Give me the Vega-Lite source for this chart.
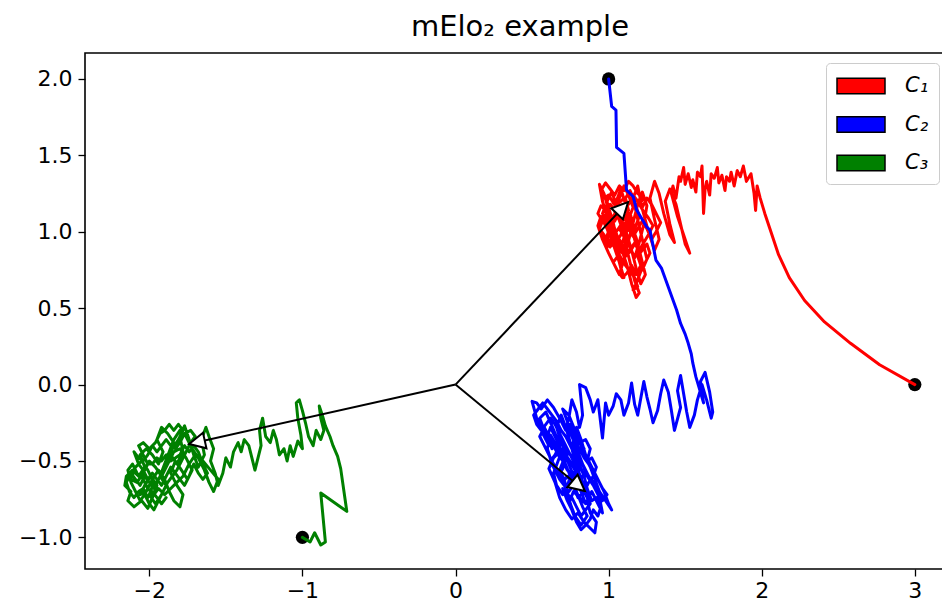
{
"$schema":"https://vega.github.io/schema/vega-lite/v6.json",
"width":858,"height":516,
"autosize":{"type":"none"},
"padding":{"left":85,"top":53,"right":0,"bottom":37},
"background":"white",
"title":{"text":"mElo₂ example","font":"DejaVu Sans","fontSize":29,"fontWeight":"normal","color":"black","offset":11,"dx":6},
"config":{"view":{"stroke":"black","strokeWidth":1.6},
"axis":{"grid":false,"domain":false,"tickColor":"black","tickSize":7,"tickWidth":1.3,"labelFont":"DejaVu Sans","labelFontSize":22,"labelColor":"black","title":null,"labelFlush":false}},
"datasets":{
"starts":[{"x":3,"y":0},{"x":1,"y":2},{"x":-1,"y":-1}],
"arrows":[{"x":1.127,"y":1.194},{"x":0.845,"y":-0.697},{"x":-1.74,"y":-0.389}],
"walks":[
{"c":"C₁","x":3,"y":0},{"c":"C₁","x":2.77,"y":0.13},{"c":"C₁","x":2.58,"y":0.27},{"c":"C₁","x":2.41,"y":0.41},{"c":"C₁","x":2.28,"y":0.55},{"c":"C₁","x":2.18,"y":0.7},{"c":"C₁","x":2.11,"y":0.85},{"c":"C₁","x":2.06,"y":1.0},{"c":"C₁","x":2.02,"y":1.12},{"c":"C₁","x":1.99,"y":1.22},
{"c":"C₁","x":1.97,"y":1.3},{"c":"C₁","x":1.96,"y":1.14},{"c":"C₁","x":1.95,"y":1.25},{"c":"C₁","x":1.93,"y":1.38},{"c":"C₁","x":1.9,"y":1.33},{"c":"C₁","x":1.88,"y":1.43},{"c":"C₁","x":1.86,"y":1.36},{"c":"C₁","x":1.84,"y":1.4},{"c":"C₁","x":1.82,"y":1.3},{"c":"C₁","x":1.8,"y":1.39},{"c":"C₁","x":1.79,"y":1.33},{"c":"C₁","x":1.77,"y":1.36},{"c":"C₁","x":1.76,"y":1.27},{"c":"C₁","x":1.74,"y":1.37},{"c":"C₁","x":1.72,"y":1.32},{"c":"C₁","x":1.71,"y":1.42},{"c":"C₁","x":1.69,"y":1.35},{"c":"C₁","x":1.67,"y":1.38},{"c":"C₁","x":1.66,"y":1.24},{"c":"C₁","x":1.64,"y":1.33},{"c":"C₁","x":1.63,"y":1.28},{"c":"C₁","x":1.62,"y":1.12},{"c":"C₁","x":1.61,"y":1.43},{"c":"C₁","x":1.6,"y":1.36},{"c":"C₁","x":1.58,"y":1.39},{"c":"C₁","x":1.57,"y":1.26},{"c":"C₁","x":1.55,"y":1.34},{"c":"C₁","x":1.54,"y":1.29},{"c":"C₁","x":1.52,"y":1.38},{"c":"C₁","x":1.5,"y":1.31},{"c":"C₁","x":1.49,"y":1.42},{"c":"C₁","x":1.47,"y":1.33},{"c":"C₁","x":1.46,"y":1.36},{"c":"C₁","x":1.44,"y":1.22},{"c":"C₁","x":1.42,"y":1.3},{"c":"C₁","x":1.41,"y":1.25},
{"c":"C₁","x":1.45,"y":1.1},{"c":"C₁","x":1.5,"y":0.95},{"c":"C₁","x":1.53,"y":0.86},{"c":"C₁","x":1.5,"y":0.92},{"c":"C₁","x":1.47,"y":1.05},{"c":"C₁","x":1.44,"y":1.18},{"c":"C₁","x":1.4,"y":1.28},{"c":"C₁","x":1.37,"y":1.2},{"c":"C₁","x":1.4,"y":1.05},{"c":"C₁","x":1.43,"y":0.93},{"c":"C₁","x":1.4,"y":0.98},{"c":"C₁","x":1.36,"y":1.12},{"c":"C₁","x":1.33,"y":1.25},{"c":"C₁","x":1.3,"y":1.33},{"c":"C₁","x":1.27,"y":1.22},{"c":"C₁","x":1.3,"y":1.08},{"c":"C₁","x":1.33,"y":0.95},{"c":"C₁","x":1.3,"y":0.88},{"c":"C₁","x":1.26,"y":1.0},{"c":"C₁","x":1.22,"y":1.15},{"c":"C₁","x":1.19,"y":1.3},{"c":"C₁","x":1.16,"y":1.22},{"c":"C₁","x":1.19,"y":1.08},{"c":"C₁","x":1.22,"y":0.95},{"c":"C₁","x":1.25,"y":0.82},{"c":"C₁","x":1.22,"y":0.75},{"c":"C₁","x":1.19,"y":0.88},{"c":"C₁","x":1.15,"y":1.02},{"c":"C₁","x":1.12,"y":1.15},{"c":"C₁","x":1.08,"y":1.28},{"c":"C₁","x":1.05,"y":1.2},{"c":"C₁","x":1.08,"y":1.05},{"c":"C₁","x":1.11,"y":0.92},{"c":"C₁","x":1.14,"y":0.8},{"c":"C₁","x":1.17,"y":0.68},{"c":"C₁","x":1.2,"y":0.6},{"c":"C₁","x":1.18,"y":0.57},{"c":"C₁","x":1.15,"y":0.66},{"c":"C₁","x":1.12,"y":0.78},{"c":"C₁","x":1.08,"y":0.9},{"c":"C₁","x":1.04,"y":1.02},{"c":"C₁","x":1.0,"y":1.14},{"c":"C₁","x":0.97,"y":1.25},{"c":"C₁","x":0.94,"y":1.31},{"c":"C₁","x":0.96,"y":1.2},{"c":"C₁","x":0.99,"y":1.1},{"c":"C₁","x":1.02,"y":0.98},{"c":"C₁","x":1.05,"y":0.88},{"c":"C₁","x":1.08,"y":0.76},{"c":"C₁","x":1.1,"y":0.7},{"c":"C₁","x":1.07,"y":0.8},{"c":"C₁","x":1.03,"y":0.92},{"c":"C₁","x":0.99,"y":1.02},{"c":"C₁","x":0.95,"y":1.1},{"c":"C₁","x":0.93,"y":1.04},{"c":"C₁","x":0.96,"y":0.95},{"c":"C₁","x":1.0,"y":0.86},{"c":"C₁","x":1.04,"y":0.78},{"c":"C₁","x":1.07,"y":0.72},{"c":"C₁","x":1.1,"y":0.82},{"c":"C₁","x":1.13,"y":0.94},{"c":"C₁","x":1.16,"y":1.06},{"c":"C₁","x":1.19,"y":1.18},{"c":"C₁","x":1.22,"y":1.26},{"c":"C₁","x":1.25,"y":1.17},{"c":"C₁","x":1.23,"y":1.05},{"c":"C₁","x":1.2,"y":0.93},{"c":"C₁","x":1.17,"y":0.83},{"c":"C₁","x":1.14,"y":0.9},{"c":"C₁","x":1.11,"y":1.0},{"c":"C₁","x":1.08,"y":1.1},{"c":"C₁","x":1.05,"y":1.18},{"c":"C₁","x":1.02,"y":1.26},{"c":"C₁","x":0.99,"y":1.2},{"c":"C₁","x":1.01,"y":1.08},{"c":"C₁","x":1.04,"y":0.97},{"c":"C₁","x":1.07,"y":0.86},{"c":"C₁","x":1.1,"y":0.96},{"c":"C₁","x":1.13,"y":1.08},{"c":"C₁","x":1.16,"y":1.16},{"c":"C₁","x":1.13,"y":1.24},{"c":"C₁","x":1.1,"y":1.3},{"c":"C₁","x":1.07,"y":1.22},{"c":"C₁","x":1.04,"y":1.12},{"c":"C₁","x":1.01,"y":1.03},{"c":"C₁","x":0.98,"y":0.95},{"c":"C₁","x":1.01,"y":0.9},{"c":"C₁","x":1.05,"y":1.0},{"c":"C₁","x":1.09,"y":1.06},{"c":"C₁","x":1.12,"y":0.98},{"c":"C₁","x":1.15,"y":0.88},{"c":"C₁","x":1.18,"y":0.76},{"c":"C₁","x":1.21,"y":0.66},{"c":"C₁","x":1.24,"y":0.72},{"c":"C₁","x":1.21,"y":0.84},{"c":"C₁","x":1.18,"y":0.96},{"c":"C₁","x":1.15,"y":1.04},{"c":"C₁","x":1.12,"y":1.12},{"c":"C₁","x":1.09,"y":1.18},{"c":"C₁","x":1.06,"y":1.1},{"c":"C₁","x":1.09,"y":1.02},{"c":"C₁","x":1.12,"y":0.94},{"c":"C₁","x":1.09,"y":0.86},{"c":"C₁","x":1.06,"y":0.92},{"c":"C₁","x":1.03,"y":1.06},{"c":"C₁","x":1.0,"y":1.16},{"c":"C₁","x":0.97,"y":1.08},{"c":"C₁","x":1.0,"y":0.99},{"c":"C₁","x":1.04,"y":0.92},{"c":"C₁","x":1.08,"y":0.98},{"c":"C₁","x":1.11,"y":1.06},{"c":"C₁","x":1.14,"y":1.12},{"c":"C₁","x":1.17,"y":1.02},{"c":"C₁","x":1.2,"y":1.1},{"c":"C₁","x":1.17,"y":1.2},{"c":"C₁","x":1.14,"y":1.27},{"c":"C₁","x":1.11,"y":1.22},{"c":"C₁","x":1.13,"y":1.14},
{"c":"C₁","x":1.1,"y":1.08},{"c":"C₁","x":1.07,"y":1.13},{"c":"C₁","x":1.04,"y":1.07},{"c":"C₁","x":1.01,"y":1.12},{"c":"C₁","x":0.98,"y":1.17},{"c":"C₁","x":0.96,"y":1.12},{"c":"C₁","x":0.99,"y":1.06},{"c":"C₁","x":1.02,"y":1.0},{"c":"C₁","x":0.99,"y":0.96},{"c":"C₁","x":1.02,"y":0.91},{"c":"C₁","x":1.05,"y":0.95},{"c":"C₁","x":1.08,"y":0.89},{"c":"C₁","x":1.11,"y":0.84},{"c":"C₁","x":1.14,"y":0.87},{"c":"C₁","x":1.17,"y":0.92},{"c":"C₁","x":1.2,"y":0.88},{"c":"C₁","x":1.23,"y":0.93},{"c":"C₁","x":1.26,"y":0.98},{"c":"C₁","x":1.29,"y":1.04},{"c":"C₁","x":1.26,"y":1.09},{"c":"C₁","x":1.23,"y":1.13},{"c":"C₁","x":1.2,"y":1.18},{"c":"C₁","x":1.23,"y":1.22},{"c":"C₁","x":1.19,"y":1.25},{"c":"C₁","x":1.16,"y":1.3},{"c":"C₁","x":1.13,"y":1.33},{"c":"C₁","x":1.1,"y":1.27},{"c":"C₁","x":1.07,"y":1.3},{"c":"C₁","x":1.04,"y":1.24},{"c":"C₁","x":1.01,"y":1.28},{"c":"C₁","x":0.98,"y":1.32},{"c":"C₁","x":0.95,"y":1.27},{"c":"C₁","x":0.97,"y":1.22},{"c":"C₁","x":1.0,"y":1.24},{"c":"C₁","x":1.03,"y":1.19},{"c":"C₁","x":1.06,"y":1.15},{"c":"C₁","x":1.09,"y":1.12},{"c":"C₁","x":1.12,"y":1.06},{"c":"C₁","x":1.15,"y":1.0},{"c":"C₁","x":1.18,"y":0.94},{"c":"C₁","x":1.15,"y":0.9},{"c":"C₁","x":1.12,"y":0.86},{"c":"C₁","x":1.09,"y":0.8},{"c":"C₁","x":1.06,"y":0.84},{"c":"C₁","x":1.03,"y":0.8},{"c":"C₁","x":1.06,"y":0.74},{"c":"C₁","x":1.09,"y":0.7},{"c":"C₁","x":1.12,"y":0.73},{"c":"C₁","x":1.15,"y":0.78},{"c":"C₁","x":1.18,"y":0.72},{"c":"C₁","x":1.21,"y":0.78},{"c":"C₁","x":1.19,"y":0.84},{"c":"C₁","x":1.22,"y":0.88},{"c":"C₁","x":1.25,"y":0.92},{"c":"C₁","x":1.27,"y":0.86},{"c":"C₁","x":1.24,"y":0.8},{"c":"C₁","x":1.21,"y":0.74},{"c":"C₁","x":1.18,"y":0.66},{"c":"C₁","x":1.16,"y":0.62},{"c":"C₁","x":1.19,"y":0.64},{"c":"C₁","x":1.17,"y":0.7},{"c":"C₁","x":1.14,"y":0.74},{"c":"C₁","x":1.11,"y":0.78},{"c":"C₁","x":1.08,"y":0.83},{"c":"C₁","x":1.05,"y":0.89},{"c":"C₁","x":1.02,"y":0.94},{"c":"C₁","x":0.99,"y":0.9},{"c":"C₁","x":0.97,"y":0.98},{"c":"C₁","x":0.94,"y":1.02},{"c":"C₁","x":0.96,"y":1.07},{"c":"C₁","x":0.93,"y":1.12},{"c":"C₁","x":0.95,"y":1.17},{"c":"C₁","x":0.98,"y":1.14},{"c":"C₁","x":1.01,"y":1.18},{"c":"C₁","x":1.04,"y":1.14},{"c":"C₁","x":1.07,"y":1.19},{"c":"C₁","x":1.1,"y":1.22},{"c":"C₁","x":1.13,"y":1.18},{"c":"C₁","x":1.16,"y":1.24},{"c":"C₁","x":1.19,"y":1.2},{"c":"C₁","x":1.22,"y":1.16},{"c":"C₁","x":1.25,"y":1.22},{"c":"C₁","x":1.28,"y":1.18},{"c":"C₁","x":1.31,"y":1.12},{"c":"C₁","x":1.34,"y":1.06},{"c":"C₁","x":1.31,"y":1.0},{"c":"C₁","x":1.28,"y":0.95},{"c":"C₁","x":1.25,"y":1.02},{"c":"C₁","x":1.22,"y":1.07},{"c":"C₁","x":1.19,"y":1.02},{"c":"C₁","x":1.16,"y":0.97},{"c":"C₁","x":1.13,"y":1.02},{"c":"C₁","x":1.1,"y":0.97},{"c":"C₁","x":1.07,"y":1.02},{"c":"C₁","x":1.04,"y":1.0},{"c":"C₁","x":1.07,"y":0.95},{"c":"C₁","x":1.1,"y":0.9},{"c":"C₁","x":1.13,"y":0.96},
{"c":"C₂","x":1,"y":2},{"c":"C₂","x":1.02,"y":1.82},{"c":"C₂","x":1.048,"y":1.796},{"c":"C₂","x":1.052,"y":1.552},{"c":"C₂","x":1.1,"y":1.513},{"c":"C₂","x":1.117,"y":1.273},{"c":"C₂","x":1.161,"y":1.229},{"c":"C₂","x":1.183,"y":1.142},{"c":"C₂","x":1.248,"y":1.033},{"c":"C₂","x":1.27,"y":1.011},{"c":"C₂","x":1.309,"y":0.815},{"c":"C₂","x":1.346,"y":0.76},{"c":"C₂","x":1.444,"y":0.488},{"c":"C₂","x":1.47,"y":0.4},{"c":"C₂","x":1.5,"y":0.33},{"c":"C₂","x":1.52,"y":0.27},{"c":"C₂","x":1.54,"y":0.2},{"c":"C₂","x":1.55,"y":0.14},
{"c":"C₂","x":1.57,"y":0.05},{"c":"C₂","x":1.6,"y":-0.05},{"c":"C₂","x":1.62,"y":-0.12},{"c":"C₂","x":1.6,"y":0.02},{"c":"C₂","x":1.63,"y":0.08},{"c":"C₂","x":1.66,"y":-0.05},{"c":"C₂","x":1.68,"y":-0.18},{"c":"C₂","x":1.67,"y":-0.22},{"c":"C₂","x":1.64,"y":-0.1},{"c":"C₂","x":1.61,"y":0.0},{"c":"C₂","x":1.58,"y":-0.1},{"c":"C₂","x":1.56,"y":-0.2},{"c":"C₂","x":1.53,"y":-0.28},{"c":"C₂","x":1.51,"y":-0.18},{"c":"C₂","x":1.49,"y":-0.06},{"c":"C₂","x":1.47,"y":0.06},{"c":"C₂","x":1.45,"y":-0.04},{"c":"C₂","x":1.47,"y":-0.15},{"c":"C₂","x":1.43,"y":-0.3},{"c":"C₂","x":1.41,"y":-0.17},{"c":"C₂","x":1.39,"y":-0.05},{"c":"C₂","x":1.36,"y":0.03},{"c":"C₂","x":1.34,"y":-0.06},{"c":"C₂","x":1.32,"y":-0.17},{"c":"C₂","x":1.29,"y":-0.25},{"c":"C₂","x":1.27,"y":-0.16},{"c":"C₂","x":1.25,"y":-0.08},{"c":"C₂","x":1.23,"y":0.02},{"c":"C₂","x":1.21,"y":-0.09},{"c":"C₂","x":1.19,"y":-0.2},{"c":"C₂","x":1.17,"y":-0.13},{"c":"C₂","x":1.15,"y":0.01},{"c":"C₂","x":1.13,"y":-0.12},{"c":"C₂","x":1.1,"y":-0.2},{"c":"C₂","x":1.08,"y":-0.1},{"c":"C₂","x":1.05,"y":-0.06},{"c":"C₂","x":1.03,"y":-0.14},{"c":"C₂","x":1.0,"y":-0.2},{"c":"C₂","x":0.98,"y":-0.12},{"c":"C₂","x":0.96,"y":-0.35},{"c":"C₂","x":0.93,"y":-0.1},{"c":"C₂","x":0.9,"y":-0.18},{"c":"C₂","x":0.88,"y":-0.1},{"c":"C₂","x":0.85,"y":-0.02},{"c":"C₂","x":0.81,"y":0.0},{"c":"C₂","x":0.83,"y":-0.2},{"c":"C₂","x":0.81,"y":-0.28},{"c":"C₂","x":0.79,"y":-0.18},{"c":"C₂","x":0.76,"y":-0.1},{"c":"C₂","x":0.74,"y":-0.22},{"c":"C₂","x":0.72,"y":-0.3},
{"c":"C₂","x":0.68,"y":-0.22},{"c":"C₂","x":0.64,"y":-0.15},{"c":"C₂","x":0.6,"y":-0.1},{"c":"C₂","x":0.56,"y":-0.16},{"c":"C₂","x":0.53,"y":-0.12},{"c":"C₂","x":0.5,"y":-0.11},{"c":"C₂","x":0.53,"y":-0.22},{"c":"C₂","x":0.57,"y":-0.32},{"c":"C₂","x":0.61,"y":-0.4},{"c":"C₂","x":0.58,"y":-0.3},{"c":"C₂","x":0.55,"y":-0.22},{"c":"C₂","x":0.59,"y":-0.18},{"c":"C₂","x":0.63,"y":-0.27},{"c":"C₂","x":0.67,"y":-0.37},{"c":"C₂","x":0.7,"y":-0.47},{"c":"C₂","x":0.66,"y":-0.4},{"c":"C₂","x":0.62,"y":-0.33},{"c":"C₂","x":0.6,"y":-0.42},{"c":"C₂","x":0.63,"y":-0.52},{"c":"C₂","x":0.67,"y":-0.6},{"c":"C₂","x":0.7,"y":-0.55},{"c":"C₂","x":0.73,"y":-0.46},{"c":"C₂","x":0.69,"y":-0.38},{"c":"C₂","x":0.66,"y":-0.28},{"c":"C₂","x":0.69,"y":-0.2},{"c":"C₂","x":0.72,"y":-0.28},{"c":"C₂","x":0.75,"y":-0.38},{"c":"C₂","x":0.78,"y":-0.48},{"c":"C₂","x":0.81,"y":-0.56},{"c":"C₂","x":0.77,"y":-0.6},{"c":"C₂","x":0.73,"y":-0.66},{"c":"C₂","x":0.7,"y":-0.72},{"c":"C₂","x":0.66,"y":-0.66},{"c":"C₂","x":0.64,"y":-0.58},{"c":"C₂","x":0.67,"y":-0.5},{"c":"C₂","x":0.7,"y":-0.42},{"c":"C₂","x":0.74,"y":-0.52},{"c":"C₂","x":0.78,"y":-0.62},{"c":"C₂","x":0.82,"y":-0.7},{"c":"C₂","x":0.85,"y":-0.78},{"c":"C₂","x":0.81,"y":-0.74},{"c":"C₂","x":0.77,"y":-0.7},{"c":"C₂","x":0.74,"y":-0.78},{"c":"C₂","x":0.72,"y":-0.7},{"c":"C₂","x":0.75,"y":-0.6},{"c":"C₂","x":0.71,"y":-0.5},{"c":"C₂","x":0.68,"y":-0.44},{"c":"C₂","x":0.64,"y":-0.48},{"c":"C₂","x":0.61,"y":-0.55},{"c":"C₂","x":0.65,"y":-0.64},{"c":"C₂","x":0.68,"y":-0.74},{"c":"C₂","x":0.72,"y":-0.82},{"c":"C₂","x":0.76,"y":-0.88},{"c":"C₂","x":0.8,"y":-0.84},{"c":"C₂","x":0.84,"y":-0.9},{"c":"C₂","x":0.88,"y":-0.94},{"c":"C₂","x":0.91,"y":-0.97},{"c":"C₂","x":0.92,"y":-0.9},{"c":"C₂","x":0.88,"y":-0.84},{"c":"C₂","x":0.86,"y":-0.76},{"c":"C₂","x":0.89,"y":-0.7},{"c":"C₂","x":0.93,"y":-0.78},{"c":"C₂","x":0.96,"y":-0.84},{"c":"C₂","x":0.94,"y":-0.74},{"c":"C₂","x":0.9,"y":-0.66},{"c":"C₂","x":0.86,"y":-0.6},{"c":"C₂","x":0.83,"y":-0.52},{"c":"C₂","x":0.8,"y":-0.44},{"c":"C₂","x":0.76,"y":-0.34},{"c":"C₂","x":0.73,"y":-0.24},{"c":"C₂","x":0.7,"y":-0.16},{"c":"C₂","x":0.74,"y":-0.2},{"c":"C₂","x":0.78,"y":-0.3},{"c":"C₂","x":0.82,"y":-0.4},{"c":"C₂","x":0.86,"y":-0.48},{"c":"C₂","x":0.9,"y":-0.56},{"c":"C₂","x":0.94,"y":-0.64},{"c":"C₂","x":0.97,"y":-0.7},{"c":"C₂","x":1.0,"y":-0.78},{"c":"C₂","x":1.02,"y":-0.82},{"c":"C₂","x":0.98,"y":-0.76},{"c":"C₂","x":0.94,"y":-0.7},{"c":"C₂","x":0.91,"y":-0.62},{"c":"C₂","x":0.88,"y":-0.54},{"c":"C₂","x":0.85,"y":-0.46},{"c":"C₂","x":0.82,"y":-0.36},{"c":"C₂","x":0.79,"y":-0.28},{"c":"C₂","x":0.76,"y":-0.42},{"c":"C₂","x":0.79,"y":-0.54},{"c":"C₂","x":0.76,"y":-0.62},{"c":"C₂","x":0.79,"y":-0.7},{"c":"C₂","x":0.83,"y":-0.8},{"c":"C₂","x":0.86,"y":-0.86},{"c":"C₂","x":0.82,"y":-0.92},{"c":"C₂","x":0.78,"y":-0.86},{"c":"C₂","x":0.75,"y":-0.78},{"c":"C₂","x":0.71,"y":-0.62},{"c":"C₂","x":0.68,"y":-0.56},{"c":"C₂","x":0.72,"y":-0.46},{"c":"C₂","x":0.76,"y":-0.52},{"c":"C₂","x":0.8,"y":-0.6},{"c":"C₂","x":0.84,"y":-0.66},{"c":"C₂","x":0.87,"y":-0.72},{"c":"C₂","x":0.84,"y":-0.6},{"c":"C₂","x":0.8,"y":-0.5},{"c":"C₂","x":0.77,"y":-0.44},{"c":"C₂","x":0.73,"y":-0.36},{"c":"C₂","x":0.77,"y":-0.4},{"c":"C₂","x":0.81,"y":-0.48},{"c":"C₂","x":0.85,"y":-0.56},
{"c":"C₂","x":0.82,"y":-0.62},{"c":"C₂","x":0.79,"y":-0.58},{"c":"C₂","x":0.76,"y":-0.64},{"c":"C₂","x":0.73,"y":-0.6},{"c":"C₂","x":0.7,"y":-0.64},{"c":"C₂","x":0.67,"y":-0.58},{"c":"C₂","x":0.64,"y":-0.52},{"c":"C₂","x":0.61,"y":-0.46},{"c":"C₂","x":0.58,"y":-0.4},{"c":"C₂","x":0.55,"y":-0.34},{"c":"C₂","x":0.58,"y":-0.28},{"c":"C₂","x":0.61,"y":-0.34},{"c":"C₂","x":0.64,"y":-0.4},{"c":"C₂","x":0.67,"y":-0.46},{"c":"C₂","x":0.7,"y":-0.5},{"c":"C₂","x":0.73,"y":-0.56},{"c":"C₂","x":0.76,"y":-0.58},{"c":"C₂","x":0.79,"y":-0.64},{"c":"C₂","x":0.82,"y":-0.68},{"c":"C₂","x":0.85,"y":-0.72},{"c":"C₂","x":0.88,"y":-0.78},{"c":"C₂","x":0.85,"y":-0.82},{"c":"C₂","x":0.82,"y":-0.86},{"c":"C₂","x":0.79,"y":-0.8},{"c":"C₂","x":0.76,"y":-0.74},{"c":"C₂","x":0.73,"y":-0.72},{"c":"C₂","x":0.7,"y":-0.68},{"c":"C₂","x":0.73,"y":-0.76},{"c":"C₂","x":0.76,"y":-0.82},{"c":"C₂","x":0.79,"y":-0.9},{"c":"C₂","x":0.82,"y":-0.95},{"c":"C₂","x":0.85,"y":-0.92},{"c":"C₂","x":0.88,"y":-0.88},{"c":"C₂","x":0.9,"y":-0.82},{"c":"C₂","x":0.93,"y":-0.86},{"c":"C₂","x":0.95,"y":-0.8},{"c":"C₂","x":0.92,"y":-0.74},{"c":"C₂","x":0.89,"y":-0.76},{"c":"C₂","x":0.86,"y":-0.68},{"c":"C₂","x":0.83,"y":-0.64},{"c":"C₂","x":0.8,"y":-0.56},{"c":"C₂","x":0.77,"y":-0.5},{"c":"C₂","x":0.74,"y":-0.44},{"c":"C₂","x":0.71,"y":-0.38},{"c":"C₂","x":0.68,"y":-0.32},{"c":"C₂","x":0.65,"y":-0.26},{"c":"C₂","x":0.62,"y":-0.22},{"c":"C₂","x":0.59,"y":-0.26},{"c":"C₂","x":0.56,"y":-0.3},{"c":"C₂","x":0.53,"y":-0.26},{"c":"C₂","x":0.51,"y":-0.2},{"c":"C₂","x":0.54,"y":-0.16},{"c":"C₂","x":0.57,"y":-0.12},{"c":"C₂","x":0.6,"y":-0.16},{"c":"C₂","x":0.63,"y":-0.2},{"c":"C₂","x":0.66,"y":-0.24},{"c":"C₂","x":0.69,"y":-0.3},{"c":"C₂","x":0.72,"y":-0.34},{"c":"C₂","x":0.75,"y":-0.4},{"c":"C₂","x":0.78,"y":-0.44},{"c":"C₂","x":0.81,"y":-0.5},{"c":"C₂","x":0.84,"y":-0.54},{"c":"C₂","x":0.87,"y":-0.6},{"c":"C₂","x":0.9,"y":-0.64},{"c":"C₂","x":0.93,"y":-0.7},{"c":"C₂","x":0.96,"y":-0.76},{"c":"C₂","x":0.99,"y":-0.72},{"c":"C₂","x":0.96,"y":-0.68},{"c":"C₂","x":0.93,"y":-0.62},{"c":"C₂","x":0.9,"y":-0.58},{"c":"C₂","x":0.87,"y":-0.52},{"c":"C₂","x":0.84,"y":-0.48},{"c":"C₂","x":0.81,"y":-0.42},{"c":"C₂","x":0.78,"y":-0.38},{"c":"C₂","x":0.75,"y":-0.32},{"c":"C₂","x":0.72,"y":-0.28},{"c":"C₂","x":0.75,"y":-0.26},{"c":"C₂","x":0.78,"y":-0.34},{"c":"C₂","x":0.81,"y":-0.44},{"c":"C₂","x":0.84,"y":-0.42},{"c":"C₂","x":0.81,"y":-0.38},{"c":"C₂","x":0.85,"y":-0.36},{"c":"C₂","x":0.88,"y":-0.42},{"c":"C₂","x":0.86,"y":-0.5},{"c":"C₂","x":0.89,"y":-0.48},{"c":"C₂","x":0.92,"y":-0.54},{"c":"C₂","x":0.9,"y":-0.6},{"c":"C₂","x":0.87,"y":-0.64},{"c":"C₂","x":0.84,"y":-0.7},{"c":"C₂","x":0.8,"y":-0.74},{"c":"C₂","x":0.77,"y":-0.66},{"c":"C₂","x":0.74,"y":-0.7},{"c":"C₂","x":0.71,"y":-0.66},{"c":"C₂","x":0.68,"y":-0.62},{"c":"C₂","x":0.65,"y":-0.56},{"c":"C₂","x":0.62,"y":-0.5},{"c":"C₂","x":0.65,"y":-0.46},{"c":"C₂","x":0.68,"y":-0.4},{"c":"C₂","x":0.65,"y":-0.34},{"c":"C₂","x":0.62,"y":-0.28},{"c":"C₂","x":0.6,"y":-0.34},{"c":"C₂","x":0.63,"y":-0.42},
{"c":"C₃","x":-1,"y":-1},{"c":"C₃","x":-0.95,"y":-1.03},{"c":"C₃","x":-0.92,"y":-0.97},{"c":"C₃","x":-0.88,"y":-1.05},{"c":"C₃","x":-0.85,"y":-1.03},{"c":"C₃","x":-0.88,"y":-0.71},{"c":"C₃","x":-0.71,"y":-0.83},{"c":"C₃","x":-0.75,"y":-0.55},{"c":"C₃","x":-0.77,"y":-0.47},{"c":"C₃","x":-0.8,"y":-0.4},{"c":"C₃","x":-0.82,"y":-0.34},{"c":"C₃","x":-0.85,"y":-0.27},{"c":"C₃","x":-0.87,"y":-0.2},{"c":"C₃","x":-0.89,"y":-0.14},{"c":"C₃","x":-0.88,"y":-0.22},{"c":"C₃","x":-0.86,"y":-0.3},{"c":"C₃","x":-0.88,"y":-0.36},{"c":"C₃","x":-0.91,"y":-0.3},{"c":"C₃","x":-0.93,"y":-0.4},{"c":"C₃","x":-0.96,"y":-0.34},{"c":"C₃","x":-0.98,"y":-0.25},{"c":"C₃","x":-1.0,"y":-0.17},{"c":"C₃","x":-1.02,"y":-0.1},{"c":"C₃","x":-1.04,"y":-0.12},{"c":"C₃","x":-1.03,"y":-0.22},{"c":"C₃","x":-1.01,"y":-0.33},{"c":"C₃","x":-1.0,"y":-0.42},{"c":"C₃","x":-1.03,"y":-0.37},{"c":"C₃","x":-1.06,"y":-0.47},{"c":"C₃","x":-1.08,"y":-0.4},{"c":"C₃","x":-1.1,"y":-0.5},{"c":"C₃","x":-1.12,"y":-0.42},{"c":"C₃","x":-1.15,"y":-0.46},{"c":"C₃","x":-1.17,"y":-0.36},{"c":"C₃","x":-1.19,"y":-0.3},{"c":"C₃","x":-1.21,"y":-0.38},{"c":"C₃","x":-1.24,"y":-0.34},{"c":"C₃","x":-1.26,"y":-0.22},{"c":"C₃","x":-1.28,"y":-0.3},{"c":"C₃","x":-1.27,"y":-0.4},{"c":"C₃","x":-1.29,"y":-0.48},{"c":"C₃","x":-1.31,"y":-0.56},{"c":"C₃","x":-1.33,"y":-0.48},{"c":"C₃","x":-1.35,"y":-0.4},{"c":"C₃","x":-1.38,"y":-0.36},{"c":"C₃","x":-1.4,"y":-0.44},{"c":"C₃","x":-1.42,"y":-0.38},{"c":"C₃","x":-1.45,"y":-0.44},{"c":"C₃","x":-1.47,"y":-0.54},{"c":"C₃","x":-1.5,"y":-0.48},{"c":"C₃","x":-1.52,"y":-0.58},{"c":"C₃","x":-1.55,"y":-0.66},{"c":"C₃","x":-1.57,"y":-0.58},{"c":"C₃","x":-1.6,"y":-0.5},{"c":"C₃","x":-1.58,"y":-0.42},{"c":"C₃","x":-1.61,"y":-0.34},{"c":"C₃","x":-1.63,"y":-0.28},{"c":"C₃","x":-1.66,"y":-0.36},{"c":"C₃","x":-1.64,"y":-0.46},{"c":"C₃","x":-1.68,"y":-0.54},{"c":"C₃","x":-1.71,"y":-0.46},{"c":"C₃","x":-1.74,"y":-0.36},{"c":"C₃","x":-1.77,"y":-0.27},{"c":"C₃","x":-1.8,"y":-0.34},{"c":"C₃","x":-1.78,"y":-0.44},{"c":"C₃","x":-1.82,"y":-0.52},{"c":"C₃","x":-1.86,"y":-0.46},{"c":"C₃","x":-1.84,"y":-0.38},{"c":"C₃","x":-1.88,"y":-0.32},{"c":"C₃","x":-1.92,"y":-0.28},{"c":"C₃","x":-1.95,"y":-0.36},{"c":"C₃","x":-1.91,"y":-0.44},{"c":"C₃","x":-1.94,"y":-0.52},{"c":"C₃","x":-1.98,"y":-0.46},{"c":"C₃","x":-2.02,"y":-0.42},{"c":"C₃","x":-2.06,"y":-0.46},{"c":"C₃","x":-2.03,"y":-0.54},{"c":"C₃","x":-2.07,"y":-0.6},{"c":"C₃","x":-2.11,"y":-0.56},{"c":"C₃","x":-2.15,"y":-0.6},{"c":"C₃","x":-2.16,"y":-0.66},{"c":"C₃","x":-2.12,"y":-0.7},{"c":"C₃","x":-2.14,"y":-0.76},{"c":"C₃","x":-2.1,"y":-0.8},{"c":"C₃","x":-2.05,"y":-0.76},{"c":"C₃","x":-2.01,"y":-0.81},{"c":"C₃","x":-1.98,"y":-0.74},{"c":"C₃","x":-1.95,"y":-0.66},{"c":"C₃","x":-1.99,"y":-0.6},{"c":"C₃","x":-2.03,"y":-0.66},{"c":"C₃","x":-2.06,"y":-0.72},{"c":"C₃","x":-2.02,"y":-0.7},{"c":"C₃","x":-1.98,"y":-0.62},{"c":"C₃","x":-1.94,"y":-0.56},{"c":"C₃","x":-1.9,"y":-0.62},{"c":"C₃","x":-1.87,"y":-0.7},{"c":"C₃","x":-1.84,"y":-0.76},{"c":"C₃","x":-1.8,"y":-0.8},{"c":"C₃","x":-1.78,"y":-0.72},{"c":"C₃","x":-1.82,"y":-0.66},{"c":"C₃","x":-1.86,"y":-0.58},{"c":"C₃","x":-1.83,"y":-0.5},{"c":"C₃","x":-1.79,"y":-0.56},{"c":"C₃","x":-1.75,"y":-0.62},{"c":"C₃","x":-1.72,"y":-0.56},{"c":"C₃","x":-1.76,"y":-0.48},{"c":"C₃","x":-1.8,"y":-0.42},{"c":"C₃","x":-1.84,"y":-0.44},{"c":"C₃","x":-1.88,"y":-0.52},{"c":"C₃","x":-1.92,"y":-0.6},{"c":"C₃","x":-1.96,"y":-0.54},{"c":"C₃","x":-2.0,"y":-0.5},{"c":"C₃","x":-2.04,"y":-0.58},{"c":"C₃","x":-2.08,"y":-0.64},{"c":"C₃","x":-2.12,"y":-0.62},{"c":"C₃","x":-2.09,"y":-0.54},{"c":"C₃","x":-2.05,"y":-0.5},{"c":"C₃","x":-2.01,"y":-0.56},{"c":"C₃","x":-1.97,"y":-0.64},{"c":"C₃","x":-2.0,"y":-0.72},{"c":"C₃","x":-1.96,"y":-0.78},{"c":"C₃","x":-1.92,"y":-0.72},{"c":"C₃","x":-1.89,"y":-0.66},{"c":"C₃","x":-1.93,"y":-0.6},{"c":"C₃","x":-1.9,"y":-0.52},{"c":"C₃","x":-1.87,"y":-0.44},{"c":"C₃","x":-1.84,"y":-0.36},{"c":"C₃","x":-1.8,"y":-0.3},{"c":"C₃","x":-1.76,"y":-0.34},{"c":"C₃","x":-1.72,"y":-0.42},{"c":"C₃","x":-1.68,"y":-0.48},{"c":"C₃","x":-1.64,"y":-0.56},{"c":"C₃","x":-1.61,"y":-0.64},{"c":"C₃","x":-1.58,"y":-0.7},{"c":"C₃","x":-1.55,"y":-0.62},{"c":"C₃","x":-1.6,"y":-0.56},{"c":"C₃","x":-1.65,"y":-0.5},{"c":"C₃","x":-1.7,"y":-0.46},{"c":"C₃","x":-1.74,"y":-0.52},{"c":"C₃","x":-1.78,"y":-0.6},{"c":"C₃","x":-1.82,"y":-0.64},{"c":"C₃","x":-1.86,"y":-0.68},
{"c":"C₃","x":-1.9,"y":-0.72},{"c":"C₃","x":-1.94,"y":-0.68},{"c":"C₃","x":-1.97,"y":-0.72},{"c":"C₃","x":-2.01,"y":-0.68},{"c":"C₃","x":-2.04,"y":-0.62},{"c":"C₃","x":-2.08,"y":-0.58},{"c":"C₃","x":-2.11,"y":-0.52},{"c":"C₃","x":-2.14,"y":-0.56},{"c":"C₃","x":-2.12,"y":-0.64},{"c":"C₃","x":-2.09,"y":-0.7},{"c":"C₃","x":-2.06,"y":-0.76},{"c":"C₃","x":-2.03,"y":-0.72},{"c":"C₃","x":-2.0,"y":-0.78},{"c":"C₃","x":-1.97,"y":-0.82},{"c":"C₃","x":-1.94,"y":-0.76},{"c":"C₃","x":-1.91,"y":-0.7},{"c":"C₃","x":-1.88,"y":-0.64},{"c":"C₃","x":-1.85,"y":-0.6},{"c":"C₃","x":-1.82,"y":-0.56},{"c":"C₃","x":-1.79,"y":-0.5},{"c":"C₃","x":-1.76,"y":-0.44},{"c":"C₃","x":-1.73,"y":-0.38},{"c":"C₃","x":-1.7,"y":-0.34},{"c":"C₃","x":-1.73,"y":-0.3},{"c":"C₃","x":-1.77,"y":-0.32},{"c":"C₃","x":-1.8,"y":-0.38},{"c":"C₃","x":-1.83,"y":-0.42},{"c":"C₃","x":-1.86,"y":-0.4},{"c":"C₃","x":-1.89,"y":-0.36},{"c":"C₃","x":-1.92,"y":-0.4},{"c":"C₃","x":-1.95,"y":-0.44},{"c":"C₃","x":-1.98,"y":-0.4},{"c":"C₃","x":-2.01,"y":-0.46},{"c":"C₃","x":-2.04,"y":-0.5},{"c":"C₃","x":-2.07,"y":-0.48},{"c":"C₃","x":-2.1,"y":-0.44},{"c":"C₃","x":-2.07,"y":-0.52},{"c":"C₃","x":-2.04,"y":-0.56},{"c":"C₃","x":-2.01,"y":-0.62},{"c":"C₃","x":-1.98,"y":-0.58},{"c":"C₃","x":-1.95,"y":-0.62},{"c":"C₃","x":-1.92,"y":-0.66},{"c":"C₃","x":-1.89,"y":-0.6},{"c":"C₃","x":-1.86,"y":-0.54},{"c":"C₃","x":-1.83,"y":-0.58},{"c":"C₃","x":-1.8,"y":-0.62},{"c":"C₃","x":-1.77,"y":-0.66},{"c":"C₃","x":-1.74,"y":-0.6},{"c":"C₃","x":-1.71,"y":-0.52},{"c":"C₃","x":-1.68,"y":-0.58},{"c":"C₃","x":-1.65,"y":-0.62},{"c":"C₃","x":-1.62,"y":-0.58},{"c":"C₃","x":-1.65,"y":-0.52},{"c":"C₃","x":-1.68,"y":-0.44},{"c":"C₃","x":-1.71,"y":-0.4},{"c":"C₃","x":-1.74,"y":-0.44},{"c":"C₃","x":-1.77,"y":-0.4},{"c":"C₃","x":-1.8,"y":-0.46},{"c":"C₃","x":-1.83,"y":-0.48},{"c":"C₃","x":-1.86,"y":-0.5},{"c":"C₃","x":-1.89,"y":-0.46},{"c":"C₃","x":-1.92,"y":-0.5},{"c":"C₃","x":-1.95,"y":-0.48},{"c":"C₃","x":-1.98,"y":-0.52},{"c":"C₃","x":-2.01,"y":-0.52},{"c":"C₃","x":-2.04,"y":-0.46},{"c":"C₃","x":-2.07,"y":-0.4},{"c":"C₃","x":-2.04,"y":-0.38},{"c":"C₃","x":-2.0,"y":-0.42},{"c":"C₃","x":-1.96,"y":-0.38},{"c":"C₃","x":-1.93,"y":-0.32},{"c":"C₃","x":-1.9,"y":-0.3},{"c":"C₃","x":-1.87,"y":-0.26},{"c":"C₃","x":-1.84,"y":-0.3},{"c":"C₃","x":-1.81,"y":-0.26},{"c":"C₃","x":-1.78,"y":-0.3},{"c":"C₃","x":-1.81,"y":-0.36},{"c":"C₃","x":-1.85,"y":-0.42},{"c":"C₃","x":-1.88,"y":-0.48},{"c":"C₃","x":-1.91,"y":-0.56},{"c":"C₃","x":-1.94,"y":-0.62},{"c":"C₃","x":-1.97,"y":-0.68},{"c":"C₃","x":-2.0,"y":-0.64},{"c":"C₃","x":-2.03,"y":-0.6},{"c":"C₃","x":-2.06,"y":-0.66},{"c":"C₃","x":-2.09,"y":-0.62},{"c":"C₃","x":-2.12,"y":-0.58},{"c":"C₃","x":-2.15,"y":-0.64},{"c":"C₃","x":-2.13,"y":-0.7},{"c":"C₃","x":-2.1,"y":-0.74},{"c":"C₃","x":-2.07,"y":-0.7},{"c":"C₃","x":-2.04,"y":-0.68},{"c":"C₃","x":-2.01,"y":-0.74},{"c":"C₃","x":-1.98,"y":-0.7},{"c":"C₃","x":-1.95,"y":-0.74},{"c":"C₃","x":-1.92,"y":-0.78},{"c":"C₃","x":-1.89,"y":-0.74}
]},
"encoding":{
"x":{"field":"x","type":"quantitative","scale":{"domain":[-2.42,3.184],"nice":false,"zero":false},"axis":{"values":[-2,-1,0,1,2,3],"format":"d","labelPadding":4}},
"y":{"field":"y","type":"quantitative","scale":{"domain":[-1.207,2.17],"nice":false,"zero":false},"axis":{"values":[-1,-0.5,0,0.5,1,1.5,2],"format":".1f","labelPadding":6}}
},
"layer":[
{"data":{"name":"starts"},"mark":{"type":"point","filled":true,"color":"black","opacity":1,"size":175}},
{"data":{"name":"walks"},"mark":{"type":"line","strokeWidth":3,"strokeJoin":"round","strokeCap":"round"},
"encoding":{"order":{"value":null},
"color":{"field":"c","type":"nominal","scale":{"domain":["C₁","C₂","C₃"],"range":["#ff0000","#0000ff","#008000"]},"legend":null}}},
{"data":{"name":"walks"},"transform":[{"calculate":"datum.c","as":"series"}],"mark":{"type":"point","filled":true,"size":0},
"encoding":{"fill":{"field":"series","type":"nominal","scale":{"range":["#ff0000","#0000ff","#008000"]},
"legend":{"title":null,"orient":"none","legendX":741,"legendY":10,"padding":10,"rowPadding":14.5,"labelFont":"DejaVu Sans","labelFontSize":21,"labelFontStyle":"italic","labelColor":"black","labelOffset":43,"symbolType":"M-1,-0.64H3V0.64H-1Z","symbolSize":576,"symbolStrokeWidth":1.5,"symbolStrokeColor":"black","symbolOpacity":1,"strokeColor":"#cccccc","fillColor":"white","cornerRadius":4}}}},
{"data":{"name":"arrows"},"mark":{"type":"rule","color":"black","strokeWidth":2},
"encoding":{"x2":{"datum":0},"y2":{"datum":0}}},
{"data":{"name":"arrows"},"transform":[{"calculate":"atan2(datum.x, datum.y) * 180 / PI","as":"a"}],
"mark":{"type":"point","shape":"M0,0L-0.5,1L0.5,1Z","size":1024,"filled":true,"fill":"white","stroke":"black","strokeWidth":2,"opacity":1},
"encoding":{"angle":{"field":"a","type":"quantitative","scale":null}}}
]
}
